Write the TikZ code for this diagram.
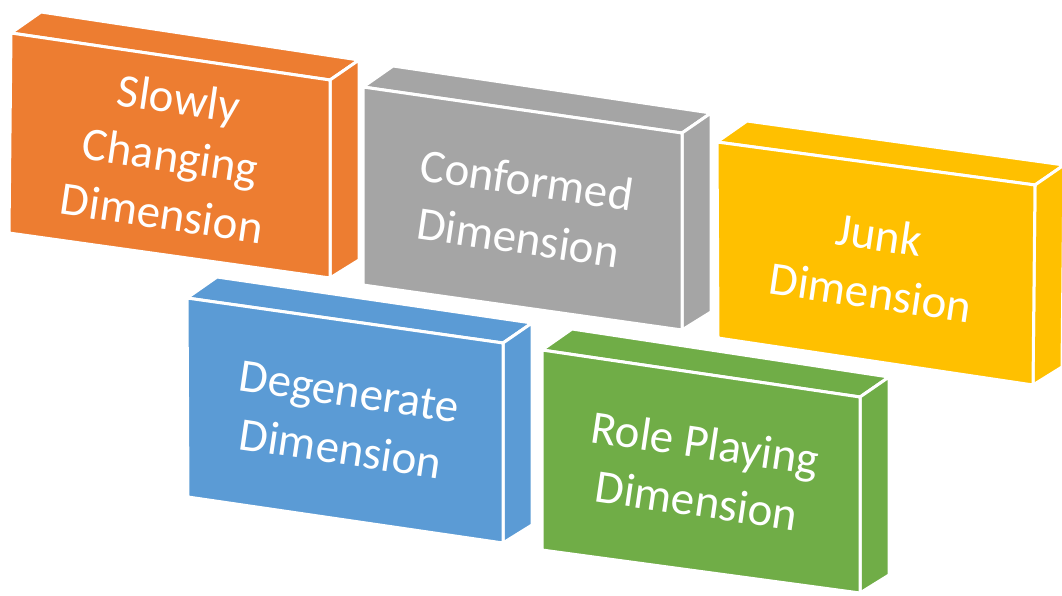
\documentclass[tikz,border=0pt]{standalone}
\usepackage{fontspec}
\setmainfont{Carlito}
\usetikzlibrary{calc}
\definecolor{cOrange}{HTML}{ED7D31}
\definecolor{cGray}{HTML}{A5A5A5}
\definecolor{cYellow}{HTML}{FFC000}
\definecolor{cBlue}{HTML}{5B9BD5}
\definecolor{cGreen}{HTML}{70AD47}
\tikzset{
  face/.style={draw=white, line width=3pt, line join=round},
  label3d/.style={text=white, align=center, font=\fontsize{47}{58}\selectfont, rotate=-8.4, inner sep=0pt}
}
% #1 name, #2 colour, #3 TL, #4 TR, #5 BR, #6 BL, #7 text
\newcommand\dimbox[7]{%
  \coordinate (#1-tl) at #3;
  \coordinate (#1-tr) at #4;
  \coordinate (#1-br) at #5;
  \coordinate (#1-bl) at #6;
  \coordinate (#1-btl) at ($(#1-tl)+(30,-21)$);
  \coordinate (#1-btr) at ($(#1-tr)+(29,-20)$);
  \coordinate (#1-bbr) at ($(#1-br)+(29,-18)$);
  \filldraw[face, fill=#2] (#1-tl) -- (#1-btl) -- (#1-btr) -- (#1-tr) -- cycle;
  \filldraw[face, fill=#2] (#1-tr) -- (#1-btr) -- (#1-bbr) -- (#1-br) -- cycle;
  \filldraw[face, fill=#2] (#1-tl) -- (#1-tr) -- (#1-br) -- (#1-bl) -- cycle;
  \node[label3d] (#1) at ($(#1-tl)!0.5!(#1-br)$) {#7};
}
\begin{document}
\begin{tikzpicture}[x=1pt,y=-1pt]
\useasboundingbox (0,0) rectangle (1062,596);
\dimbox{scd}{cOrange}{(11,33)}{(330,80)}{(330,278)}{(9,233)}{Slowly\\Changing\\Dimension}
\dimbox{conf}{cGray}{(363,87)}{(682,133)}{(682,330)}{(363,285)}{Conformed\\Dimension}
\dimbox{junk}{cYellow}{(717,142)}{(1035,185)}{(1033,385)}{(718,338)}{Junk\\Dimension}
\dimbox{degen}{cBlue}{(187,298)}{(503,343)}{(503,543)}{(188,497)}{Degenerate\\Dimension}
\dimbox{role}{cGreen}{(542,350)}{(860,397)}{(860,593)}{(542,550)}{Role Playing\\Dimension}
\end{tikzpicture}
\end{document}
